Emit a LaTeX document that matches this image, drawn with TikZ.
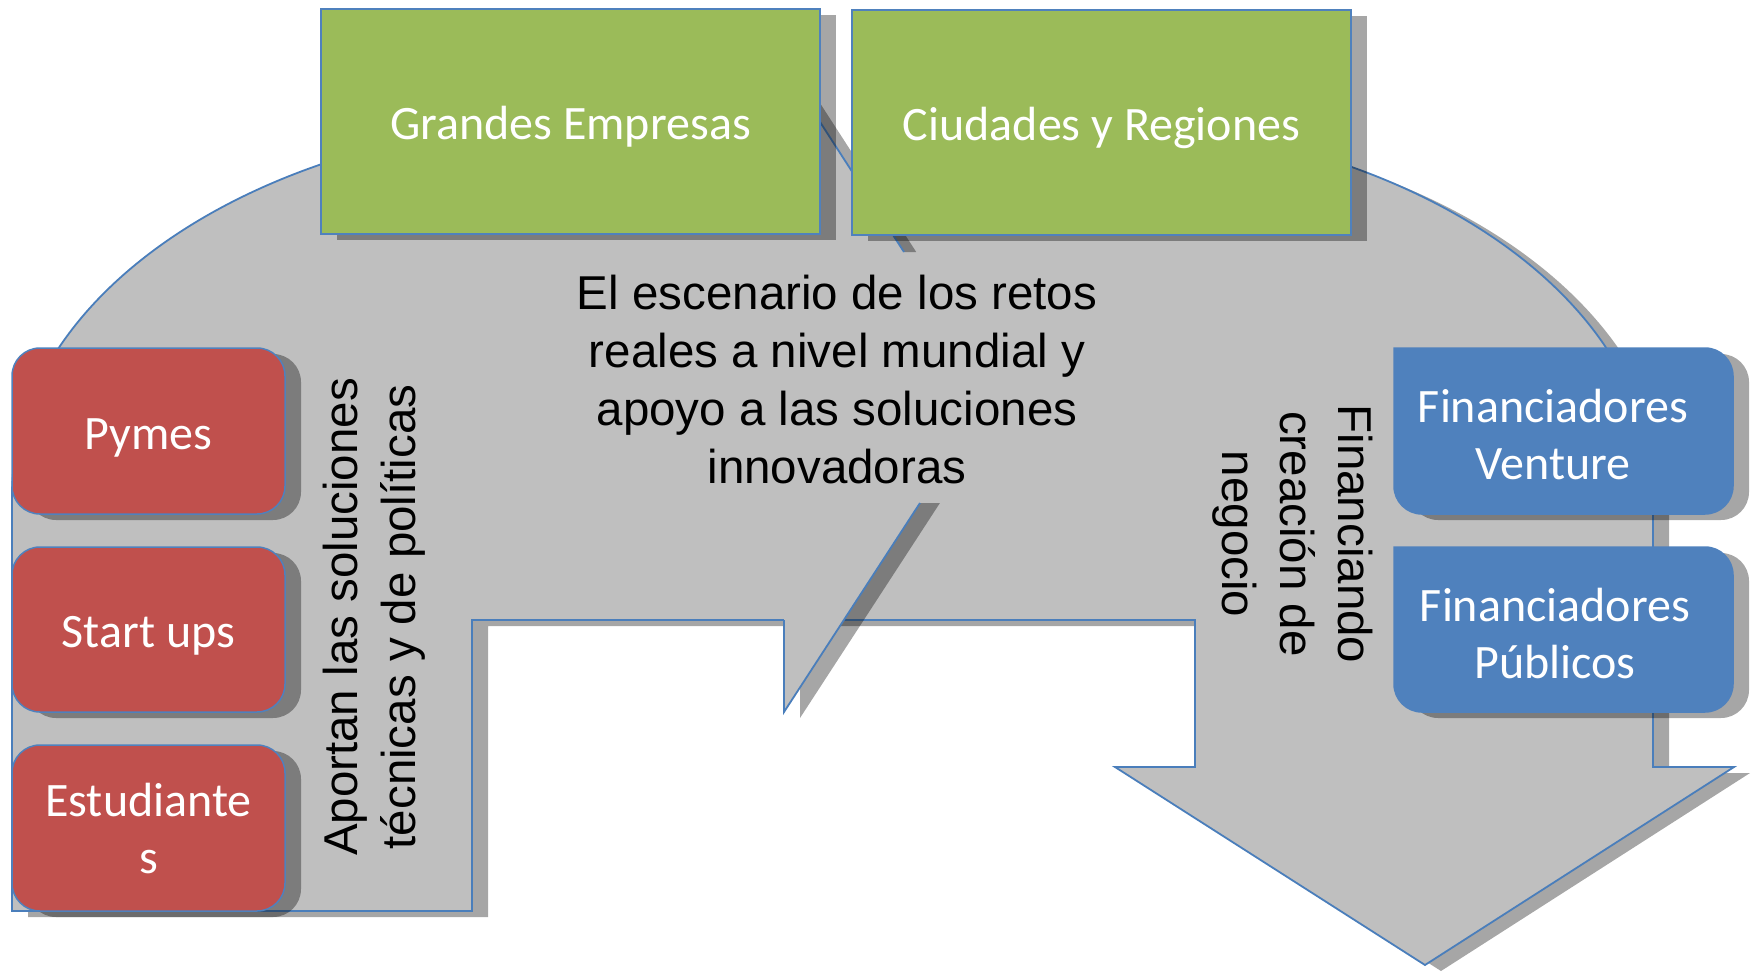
\documentclass[tikz,border=0pt]{standalone}
\usepackage{fontspec}
\setmainfont{Liberation Sans}
\newfontfamily\calibrifont{Carlito}
\usetikzlibrary{shadows}
\definecolor{ugray}{HTML}{BFBFBF}
\definecolor{uline}{HTML}{4A7EBB}
\definecolor{boxgreen}{HTML}{9BBB59}
\definecolor{boxred}{HTML}{C0504D}
\definecolor{boxblue}{HTML}{4F81BD}
\newcommand\bbshape[4]{%
  \fill[black,opacity=0.35,shift={(16,6)}] (#1,#2) [rounded corners=28pt] -- (#3,#2) -- (#3,#4) -- (#1,#4) [sharp corners] -- cycle;
  \filldraw[fill=boxblue,draw=boxblue,line width=1.5pt] (#1,#2) [rounded corners=28pt] -- (#3,#2) -- (#3,#4) -- (#1,#4) [sharp corners] -- cycle;}
\begin{document}
\begin{tikzpicture}[x=1pt,y=-1pt,
  myshadow/.style={drop shadow={shadow xshift=16pt,shadow yshift=-6pt,opacity=0.35,fill=black}},
  shadefill/.style={fill=black,fill opacity=0.35},
  uoutline/.style={draw=uline,line width=1.8pt},
  boxtext/.style={font=\calibrifont\fontsize{48}{57}\selectfont,text=white,align=center},
  oneline/.style={text height=46pt,text depth=10pt},
  mtext/.style={font=\fontsize{47.5}{58}\selectfont,align=center,text=black},
  greenbox/.style={fill=boxgreen,draw=boxblue,line width=1.5pt,minimum width=499pt,minimum height=225pt,boxtext,oneline,myshadow},
  redbox/.style={fill=boxred,draw=boxblue,line width=1.5pt,rounded corners=28pt,minimum width=273pt,minimum height=166pt,boxtext,myshadow},
  bluetext/.style={boxtext,inner sep=0pt},
]
\useasboundingbox (0,0) rectangle (1756,972);

% U-turn arrow
\path[fill=ugray,uoutline,myshadow] (12,911) -- (472,911) -- (472,620) -- (1195,620) -- (1195,767) -- (1115,767) -- (1425,965) -- (1734,767) -- (1653,767) -- (1653,495) .. controls (1653,288) and (1391,120) .. (1068,120) -- (597,120) .. controls (274,120) and (12,288) .. (12,495) -- cycle;

% gap between the green boxes
\fill[white] (741,0) -- (880,0) -- (880,214.8) -- cycle;
\fill[shadefill] (760.6,30) -- (904,252) -- (916.2,252) -- (776.6,36) -- cycle;
\draw[uoutline] (760.6,30) -- (904,252);

% callout tail
\begin{scope}
  \clip (700,503) rectangle (1000,800);
  \fill[shadefill,shift={(16,6)}] (784,450) -- (954.5,450) -- (784,712) -- cycle;
\end{scope}
\fill[ugray] (784,503) -- (920,503) -- (784,712) -- cycle;
\draw[uoutline] (784,620) -- (784,712) -- (920,503);

% green boxes
\node[greenbox] (ge) at (570.5,121.5) {Grandes Empresas};
\node[greenbox] (cr) at (1101.5,122.5) {Ciudades y Regiones};

% red boxes
\node[redbox,oneline] (py) at (148.5,431) {Pymes};
\node[redbox,oneline,minimum height=165pt] (su) at (148.5,629.5) {Start ups};
\node[redbox] (es) at (148.5,828) {Estudiante\\s};

% blue boxes
\bbshape{1394}{348}{1733}{514}
\node[bluetext] (fv) at (1553,434.5) {Financiadores\\Venture};
\bbshape{1394}{547}{1733}{712}
\node[bluetext] (fp) at (1555,633.5) {Financiadores\\Públicos};

% texts
\node[mtext] (esc) at (837,379.5) {El escenario de los retos\\reales a nivel mundial y\\apoyo a las soluciones\\innovadoras};
\node[mtext,rotate=90] (apo) at (374,617) {Aportan las soluciones\\técnicas y de políticas};
\node[mtext,rotate=-90] (fin) at (1292.5,534) {Financiando\\creación de\\negocio};
\end{tikzpicture}
\end{document}
